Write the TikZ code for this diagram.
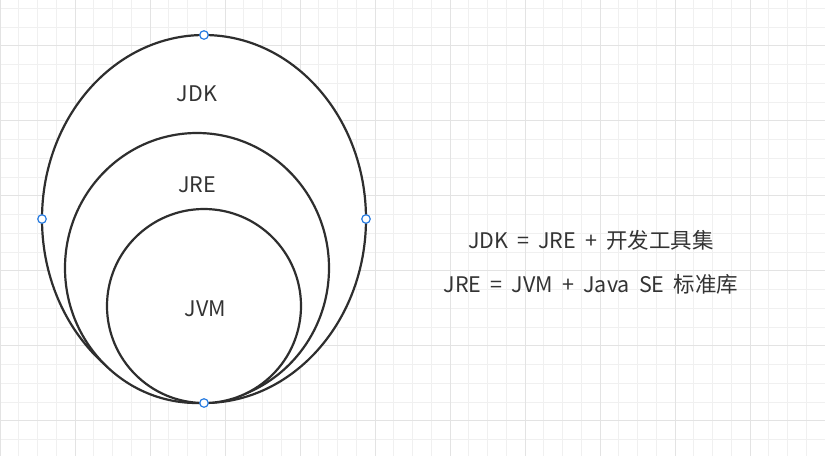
\documentclass[tikz,border=0pt]{standalone}
\usepackage{fontspec}
\setmainfont{Noto Sans CJK SC}[WordSpace=1.9]
\usetikzlibrary{shapes.geometric}
\definecolor{linegray}{HTML}{2E2E2E}
\definecolor{textgray}{HTML}{333333}
\definecolor{minorgrid}{HTML}{F0F0F0}
\definecolor{majorgrid}{HTML}{E3E3E3}
\definecolor{handleblue}{HTML}{2A7DE1}
\tikzset{
  ring/.style={ellipse, draw=linegray, line width=2.2pt, fill=white, inner sep=0pt, outer sep=0pt},
  handle/.style={circle, draw=handleblue, line width=1.2pt, fill=white, inner sep=0pt, minimum size=8.5pt},
  lbl/.style={text=textgray, anchor=base, font=\fontsize{21.5}{25}\selectfont}
}
\begin{document}
\begin{tikzpicture}[x=1pt,y=-1pt]
\useasboundingbox (0,0) rectangle (825,456);
\fill [white] (0,0) rectangle (825,456);
% grid
\foreach \i in {0,...,44}
  \draw [minorgrid, line width=1pt] (\i*18.75,0) -- (\i*18.75,456);
\foreach \j in {0,...,24}
  \draw [minorgrid, line width=1pt] (0,8.25+\j*18.75) -- (825,8.25+\j*18.75);
\foreach \i in {0,...,11}
  \draw [majorgrid, line width=1pt] (\i*75,0) -- (\i*75,456);
\foreach \j in {0,...,5}
  \draw [majorgrid, line width=1pt] (0,45.75+\j*75) -- (825,45.75+\j*75);
% rings
\node [ring, minimum width=324pt, minimum height=368pt] (jdk) at (204,219) {};
\node [ring, minimum width=264pt, minimum height=270pt] (jre) at (197,268) {};
\node [ring, minimum width=194pt, minimum height=194pt] (jvm) at (204,306) {};
\node [lbl] (jdk-lbl) at (197,101.5) {JDK};
\node [lbl] (jre-lbl) at (197,192) {JRE};
\node [lbl] (jvm-lbl) at (205.5,316.5) {JVM};
% selection handles
\foreach \a in {north,south,east,west}
  \node [handle] (h-\a) at (jdk.\a) {};
% formulas
\node [lbl] (eq-jdk) at (591,248) {JDK = JRE + 开发工具集};
\node [lbl] (eq-jre) at (591,292.5) {JRE = JVM + Java SE 标准库};
\end{tikzpicture}
\end{document}
